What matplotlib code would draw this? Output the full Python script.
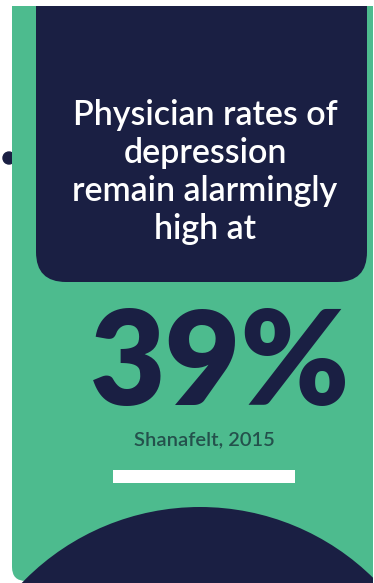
import matplotlib
matplotlib.use("Agg")
import matplotlib.pyplot as plt
from matplotlib.patches import FancyBboxPatch, Circle, Rectangle

# Content
headline_lines = ["Physician rates of", "depression", "remain alarmingly", "high at"]
stat_value = 39
stat_unit = "%"
source = "Shanafelt, 2015"

GREEN = "#4dbb8e"
NAVY = "#1a1f43"
SOURCE_COLOR = "#24514c"

W, H = 374, 583
fig = plt.figure(figsize=(W / 100, H / 100), dpi=100)
fig.patch.set_facecolor("white")
ax = fig.add_axes([0, 0, 1, 1])
ax.set_xlim(0, W)
ax.set_ylim(H, 0)
ax.axis("off")

# small dot at left edge
ax.add_patch(Circle((9, 158), 6, color=NAVY, zorder=1))

# green panel with rounded bottom-left corner
ax.add_patch(FancyBboxPatch((12, -40), 361 + 30, H + 40 - 2,
                            boxstyle="round,pad=0,rounding_size=14",
                            facecolor=GREEN, edgecolor="none", zorder=2))
panel_clip = Rectangle((12, 0), 361, H, transform=ax.transData)

# navy headline box, rounded bottom corners
ax.add_patch(FancyBboxPatch((36, -60), 331, 342,
                            boxstyle="round,pad=0,rounding_size=30",
                            facecolor=NAVY, edgecolor="none", zorder=3))

# white top strip / right edge
ax.add_patch(Rectangle((0, 0), W, 6, facecolor="white", edgecolor="none", zorder=4))
ax.add_patch(Rectangle((373, 0), 1, H, facecolor="white", edgecolor="none", zorder=4))

# headline text
ys = [115, 153, 191, 229]
for line, y in zip(headline_lines, ys):
    ax.text(205, y, line, color="white", fontsize=24.5, family="Lato",
            fontweight="semibold", ha="center", va="center", zorder=5)

# big stat
ax.text(220, 367, f"{stat_value}{stat_unit}", color=NAVY, fontsize=94,
        family="Lato", fontweight="heavy", ha="center", va="center", zorder=5)

# source
ax.text(204, 440, source, color=SOURCE_COLOR, fontsize=14.5, family="Lato",
        fontweight="semibold", ha="center", va="center", zorder=5)

# white bar
ax.add_patch(Rectangle((113, 470), 182, 13, facecolor="white", edgecolor="none", zorder=5))

# bottom navy circle
big = Circle((200, 754), 247, facecolor=NAVY, edgecolor="none", zorder=3)
ax.add_patch(big)
big.set_clip_path(panel_clip)

fig.savefig("out.png", dpi=100, facecolor="white")
